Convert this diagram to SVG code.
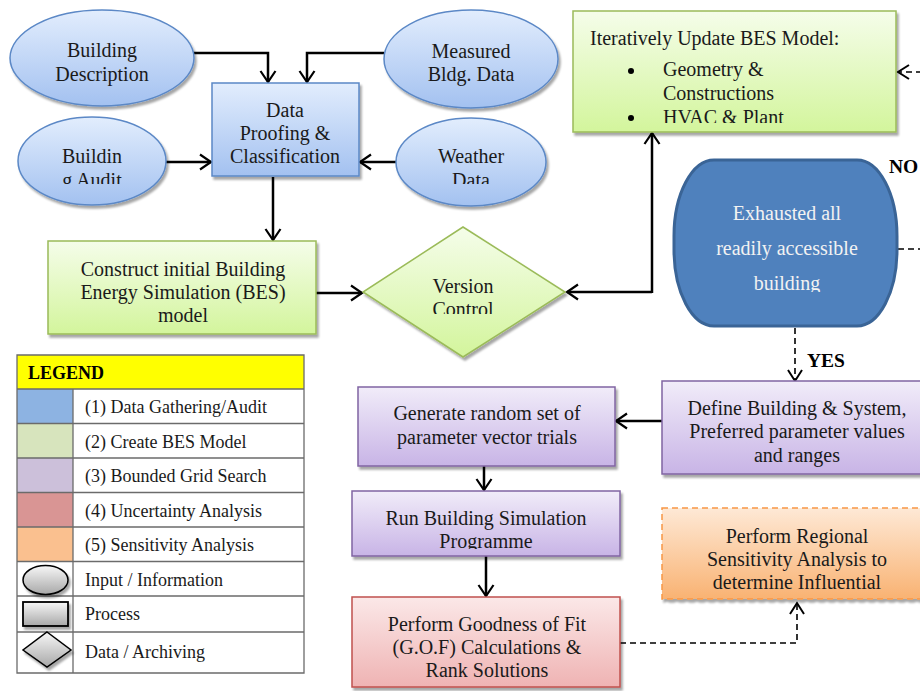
<svg xmlns="http://www.w3.org/2000/svg" width="920" height="691" viewBox="0 0 920 691">
<defs>
<style>
text{font-family:"Liberation Serif","Times New Roman",serif;font-size:20px;fill:#1a1a1a}
.c{text-anchor:middle}
.b{font-weight:bold;font-size:19.5px;fill:#000}
.lg{font-size:18px}
.con{fill:none;stroke:#000;stroke-width:2.5}
.dash{fill:none;stroke:#000;stroke-width:1.6;stroke-dasharray:6,4}
.sh{filter:url(#shadow)}
.grid{stroke:#6b6b6b;stroke-width:1.3;fill:none}
</style>
<filter id="shadow" x="-10%" y="-10%" width="125%" height="130%">
<feDropShadow dx="2" dy="3" stdDeviation="1.2" flood-color="#000" flood-opacity="0.35"/>
</filter>
<linearGradient id="gBlue" x1="0" y1="0" x2="0" y2="1"><stop offset="0" stop-color="#e2edfd"/><stop offset="1" stop-color="#a3c1f0"/></linearGradient>
<linearGradient id="gGreen" x1="0" y1="0" x2="0" y2="1"><stop offset="0" stop-color="#f5fdea"/><stop offset="1" stop-color="#d3f59c"/></linearGradient>
<linearGradient id="gPurple" x1="0" y1="0" x2="0" y2="1"><stop offset="0" stop-color="#f1ecf9"/><stop offset="1" stop-color="#c8b4e6"/></linearGradient>
<linearGradient id="gRed" x1="0" y1="0" x2="0" y2="1"><stop offset="0" stop-color="#fbe8e8"/><stop offset="1" stop-color="#efb3b3"/></linearGradient>
<linearGradient id="gOrange" x1="0" y1="0" x2="0" y2="1"><stop offset="0" stop-color="#fee9d6"/><stop offset="1" stop-color="#f9b272"/></linearGradient>
<linearGradient id="gGray" x1="0" y1="0" x2="0" y2="1"><stop offset="0" stop-color="#f7f7f7"/><stop offset="1" stop-color="#a8a8a8"/></linearGradient>
<marker id="arr" markerUnits="userSpaceOnUse" markerWidth="16" markerHeight="18" refX="12" refY="9" orient="auto">
<path d="M1,1.5 L12,9 L1,16.5" fill="none" stroke="#000" stroke-width="2.2"/>
</marker>
<marker id="arrS" markerUnits="userSpaceOnUse" markerWidth="16" markerHeight="18" refX="12" refY="9" orient="auto">
<path d="M1,2 L12,9 L1,16" fill="none" stroke="#000" stroke-width="2"/>
</marker>
<clipPath id="clipAudit"><rect x="0" y="100" width="200" height="84"/></clipPath>
<clipPath id="clipWeather"><rect x="380" y="100" width="180" height="84"/></clipPath>
<clipPath id="clipControl"><rect x="360" y="220" width="210" height="94"/></clipPath>
<clipPath id="clipHVAC"><rect x="570" y="0" width="330" height="123"/></clipPath>
<clipPath id="clipBuilding"><rect x="670" y="150" width="240" height="142"/></clipPath>
<clipPath id="clipProg"><rect x="350" y="480" width="280" height="69"/></clipPath>
</defs>

<g id="connectors">
<path class="con" d="M193,53 H268 V82" marker-end="url(#arr)"/>
<path class="con" d="M384,53 H307 V82" marker-end="url(#arr)"/>
<path class="con" d="M165,162 H211" marker-end="url(#arr)"/>
<path class="con" d="M396,162 H360" marker-end="url(#arr)"/>
<path class="con" d="M273,177 V240" marker-end="url(#arr)"/>
<path class="con" d="M316,293 H362" marker-end="url(#arr)"/>
<path class="con" d="M652,292 H567" marker-end="url(#arr)"/>
<path class="con" d="M652,293 V133" marker-end="url(#arr)"/>
<path class="dash" d="M922,72 H898" marker-end="url(#arrS)"/>
<path class="dash" d="M898,249 H922"/>
<path class="dash" d="M795,328 V381" marker-end="url(#arrS)"/>
<path class="con" d="M662,421 H616" marker-end="url(#arr)"/>
<path class="con" d="M484,466 V490" marker-end="url(#arr)"/>
<path class="con" d="M486,556 V596" marker-end="url(#arr)"/>
<path class="dash" d="M620,643 H797 V603" marker-end="url(#arrS)"/>
<text class="b" x="807" y="367">YES</text>
<text class="b" x="889" y="173">NO</text>
</g>

<g id="building-description">
<ellipse class="sh" cx="102" cy="58" rx="92" ry="48" fill="url(#gBlue)" stroke="#5b88c6" stroke-width="1.5"/>
<text class="c" x="102" y="57">Building</text>
<text class="c" x="102" y="81">Description</text>
</g>

<g id="measured-data">
<ellipse class="sh" cx="471" cy="59" rx="87" ry="49" fill="url(#gBlue)" stroke="#5b88c6" stroke-width="1.5"/>
<text class="c" x="471" y="58">Measured</text>
<text class="c" x="471" y="81">Bldg. Data</text>
</g>

<g id="building-audit">
<ellipse class="sh" cx="92" cy="161" rx="74" ry="44" fill="url(#gBlue)" stroke="#5b88c6" stroke-width="1.5"/>
<g clip-path="url(#clipAudit)">
<text class="c" x="92" y="163">Buildin</text>
<text class="c" x="92" y="187">g Audit</text>
</g>
</g>

<g id="weather-data">
<ellipse class="sh" cx="471" cy="162" rx="75" ry="44" fill="url(#gBlue)" stroke="#5b88c6" stroke-width="1.5"/>
<g clip-path="url(#clipWeather)">
<text class="c" x="471" y="163">Weather</text>
<text class="c" x="471" y="187">Data</text>
</g>
</g>

<g id="data-proofing">
<rect class="sh" x="212" y="83" width="147" height="93" fill="url(#gBlue)" stroke="#5b88c6" stroke-width="1.5"/>
<text class="c" x="285" y="117">Data</text>
<text class="c" x="285" y="140">Proofing &amp;</text>
<text class="c" x="285" y="163">Classification</text>
</g>

<g id="construct-model">
<rect class="sh" x="48" y="241" width="268" height="93" fill="url(#gGreen)" stroke="#9bbb59" stroke-width="1.5"/>
<text class="c" x="183" y="276">Construct initial Building</text>
<text class="c" x="183" y="299">Energy Simulation (BES)</text>
<text class="c" x="183" y="322">model</text>
</g>

<g id="version-control">
<polygon class="sh" points="463,227 565,292 463,357 363,292" fill="url(#gGreen)" stroke="#9bbb59" stroke-width="1.5"/>
<g clip-path="url(#clipControl)">
<text class="c" x="463" y="293">Version</text>
<text class="c" x="463" y="316">Control</text>
</g>
</g>

<g id="iterative-update">
<rect class="sh" x="573" y="11" width="323" height="121" fill="url(#gGreen)" stroke="#9bbb59" stroke-width="1.5"/>
<text x="590" y="45">Iteratively Update BES Model:</text>
<circle cx="631" cy="71" r="3" fill="#000"/>
<text x="663" y="76">Geometry &amp;</text>
<text x="663" y="100">Constructions</text>
<g clip-path="url(#clipHVAC)">
<circle cx="631" cy="118" r="3" fill="#000"/>
<text x="663" y="124">HVAC &amp; Plant</text>
</g>
</g>

<g id="exhausted-decision">
<rect x="674" y="160" width="223" height="166" rx="40" ry="76" fill="#4f81bd" stroke="#3a6496" stroke-width="3"/>
<g clip-path="url(#clipBuilding)">
<text class="c" x="787" y="220" style="fill:#f2f2f2">Exhausted all</text>
<text class="c" x="787" y="255" style="fill:#f2f2f2">readily accessible</text>
<text class="c" x="787" y="290" style="fill:#f2f2f2">building</text>
</g>
</g>

<g id="define-parameters">
<rect class="sh" x="662" y="381" width="270" height="93" fill="url(#gPurple)" stroke="#8064a2" stroke-width="1.5"/>
<text class="c" x="797" y="415">Define Building &amp; System,</text>
<text class="c" x="797" y="438">Preferred parameter values</text>
<text class="c" x="797" y="462">and ranges</text>
</g>

<g id="generate-trials">
<rect class="sh" x="358" y="387" width="257" height="79" fill="url(#gPurple)" stroke="#8064a2" stroke-width="1.5"/>
<text class="c" x="487" y="420">Generate random set of</text>
<text class="c" x="487" y="444">parameter vector trials</text>
</g>

<g id="run-simulation">
<rect class="sh" x="352" y="491" width="268" height="65" fill="url(#gPurple)" stroke="#8064a2" stroke-width="1.5"/>
<text class="c" x="486" y="525">Run Building Simulation</text>
<g clip-path="url(#clipProg)">
<text class="c" x="486" y="548">Programme</text>
</g>
</g>

<g id="goodness-of-fit">
<rect class="sh" x="352" y="597" width="268" height="90" fill="url(#gRed)" stroke="#c0504d" stroke-width="1.5"/>
<text class="c" x="487" y="631">Perform Goodness of Fit</text>
<text class="c" x="487" y="654">(G.O.F) Calculations &amp;</text>
<text class="c" x="487" y="677">Rank Solutions</text>
</g>

<g id="sensitivity-analysis">
<rect class="sh" x="662" y="508" width="270" height="91" fill="url(#gOrange)" stroke="#f79646" stroke-width="1.5" stroke-dasharray="6,4"/>
<text class="c" x="797" y="543">Perform Regional</text>
<text class="c" x="797" y="566">Sensitivity Analysis to</text>
<text class="c" x="797" y="589">determine Influential</text>
</g>

<g id="legend">
<rect x="17" y="355" width="287" height="34" fill="#ffff00"/>
<rect x="17" y="389" width="56" height="34.5" fill="#8db3e2"/>
<rect x="17" y="423.5" width="56" height="34.5" fill="#d7e4bd"/>
<rect x="17" y="458" width="56" height="34.5" fill="#ccc0da"/>
<rect x="17" y="492.5" width="56" height="34.5" fill="#d99594"/>
<rect x="17" y="527" width="56" height="34.5" fill="#fac08f"/>
<path class="grid" d="M17,355 H304 V673 H17 Z M17,389 H304 M17,423.5 H304 M17,458 H304 M17,492.5 H304 M17,527 H304 M17,561.5 H304 M17,596 H304 M17,632 H304 M73,389 V673"/>
<text class="b" x="28" y="379" style="font-size:18px">LEGEND</text>
<text class="lg" x="85" y="413">(1) Data Gathering/Audit</text>
<text class="lg" x="85" y="447.5">(2) Create BES Model</text>
<text class="lg" x="85" y="482">(3) Bounded Grid Search</text>
<text class="lg" x="85" y="516.5">(4) Uncertainty Analysis</text>
<text class="lg" x="85" y="551">(5) Sensitivity Analysis</text>
<text class="lg" x="85" y="585.5">Input / Information</text>
<text class="lg" x="85" y="620">Process</text>
<text class="lg" x="85" y="658">Data / Archiving</text>
<ellipse class="sh" cx="45.5" cy="580" rx="22.5" ry="14.5" fill="url(#gGray)" stroke="#000" stroke-width="1.5"/>
<rect class="sh" x="23" y="602" width="45" height="24" fill="url(#gGray)" stroke="#000" stroke-width="1.8"/>
<polygon class="sh" points="47,632 71,650 47,667 23,650" fill="url(#gGray)" stroke="#000" stroke-width="1.5"/>
</g>
</svg>
